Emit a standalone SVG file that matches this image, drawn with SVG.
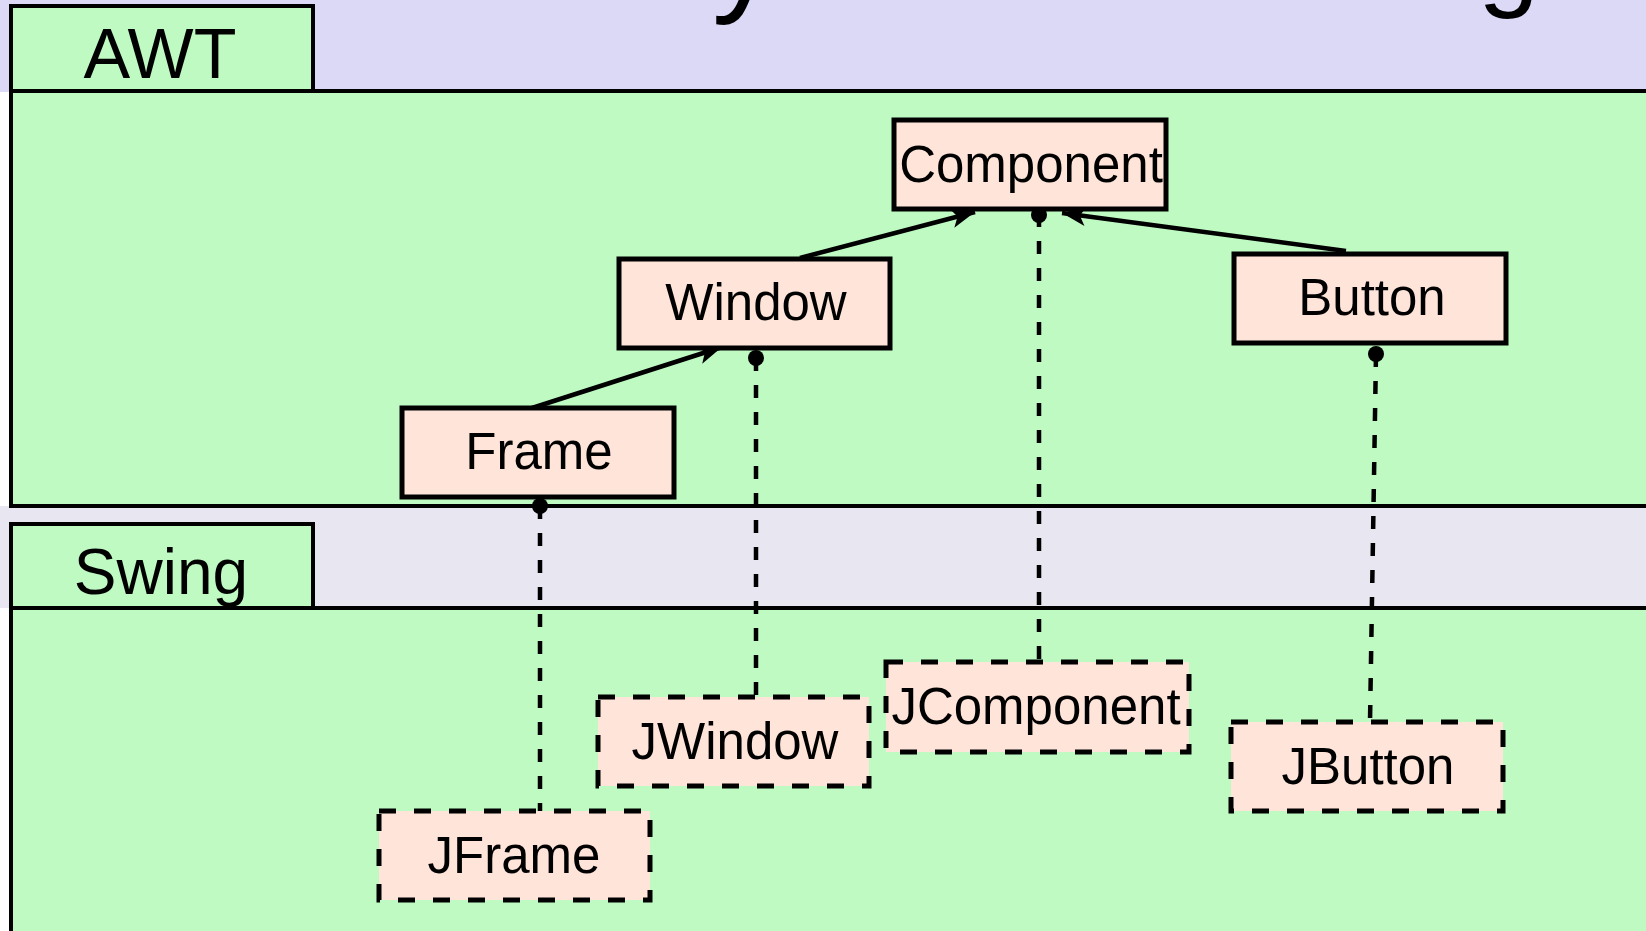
<svg xmlns="http://www.w3.org/2000/svg" width="1646" height="931" viewBox="0 0 1646 931">
  <style>
    .panel { fill: #bffac3; stroke: #000; stroke-width: 4; }
    .node { fill: #ffe4da; stroke: #000; stroke-width: 5; }
    .dnode { fill: #ffe4da; stroke: #000; stroke-width: 5; stroke-dasharray: 17 18; }
    .lbl { font-family: "Liberation Sans", Arial, sans-serif; font-size: 51px; fill: #000; text-anchor: middle; }
    .tab { font-family: "Liberation Sans", Arial, sans-serif; fill: #000; text-anchor: middle; }
    .title { font-family: "Liberation Sans", Arial, sans-serif; fill: #000; }
    .edge { stroke: #000; stroke-width: 4.5; fill: none; }
    .dash { stroke: #000; stroke-width: 4.5; fill: none; stroke-dasharray: 13 14; }
    .dot { fill: #000; }
  </style>
  <defs>
    <marker id="arrow" markerUnits="userSpaceOnUse" markerWidth="28" markerHeight="24" refX="24" refY="12" orient="auto">
      <path d="M0,2 L24,12 L0,22 L6,12 z" fill="#000"/>
    </marker>
  </defs>

  <!-- backgrounds -->
  <rect x="0" y="0" width="1646" height="92" fill="#dcd9f7"/>
  <rect x="0" y="506" width="1646" height="102" fill="#e7e6f1"/>
  <text class="title" x="712" y="-2" font-size="130">y</text>
  <text class="title" x="1478" y="-4" font-size="110">g</text>

  <!-- AWT panel -->
  <g id="awt">
    <rect class="panel" x="11" y="91" width="1700" height="415"/>
    <rect class="panel" x="11" y="6" width="302" height="85"/>
    <text class="tab" x="160" y="78" font-size="70">AWT</text>
  </g>

  <!-- Swing panel -->
  <g id="swing">
    <rect class="panel" x="11" y="608" width="1700" height="400"/>
    <rect class="panel" x="11" y="524" width="302" height="84"/>
    <text class="tab" x="161" y="594" font-size="64">Swing</text>
  </g>

  <!-- connectors -->
  <g id="connectors">
    <line class="edge" x1="800" y1="258" x2="975" y2="212" marker-end="url(#arrow)"/>
    <line class="edge" x1="532" y1="408" x2="722" y2="347" marker-end="url(#arrow)"/>
    <line class="edge" x1="1346" y1="251" x2="1062" y2="213" marker-end="url(#arrow)"/>
    <line class="dash" x1="1039" y1="214" x2="1039" y2="662"/>
    <circle class="dot" cx="1039" cy="215" r="8"/>
    <line class="dash" x1="756" y1="358" x2="756" y2="697"/>
    <circle class="dot" cx="756" cy="358" r="8"/>
    <line class="dash" x1="540" y1="506" x2="540" y2="820"/>
    <circle class="dot" cx="540" cy="506" r="8"/>
    <line class="dash" x1="1376" y1="354" x2="1370" y2="722"/>
    <circle class="dot" cx="1376" cy="354" r="8"/>
  </g>

  <g id="component">
    <rect class="node" x="894" y="120" width="272" height="89"/>
    <text class="lbl" x="1031" y="182">Component</text>
  </g>
  <g id="window">
    <rect class="node" x="619" y="259" width="271" height="89"/>
    <text class="lbl" x="756" y="320">Window</text>
  </g>
  <g id="frame">
    <rect class="node" x="402" y="408" width="272" height="89"/>
    <text class="lbl" x="539" y="469">Frame</text>
  </g>
  <g id="button">
    <rect class="node" x="1234" y="254" width="272" height="89"/>
    <text class="lbl" x="1372" y="315">Button</text>
  </g>

  <g id="jcomponent">
    <rect class="dnode" x="886" y="662" width="303" height="90"/>
    <text class="lbl" x="1036" y="724">JComponent</text>
  </g>
  <g id="jwindow">
    <rect class="dnode" x="598" y="697" width="271" height="89"/>
    <text class="lbl" x="735" y="759">JWindow</text>
  </g>
  <g id="jframe">
    <rect class="dnode" x="379" y="811" width="271" height="89"/>
    <text class="lbl" x="514" y="873">JFrame</text>
  </g>
  <g id="jbutton">
    <rect class="dnode" x="1231" y="722" width="272" height="89"/>
    <text class="lbl" x="1368" y="784">JButton</text>
  </g>
</svg>
